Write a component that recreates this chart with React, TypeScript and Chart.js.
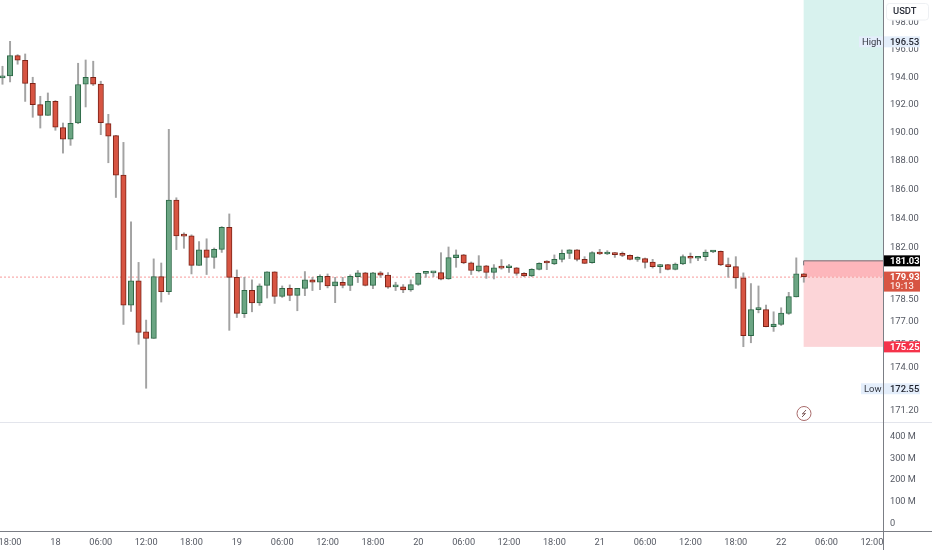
import React, { useEffect, useRef } from "react";
import { Chart, registerables } from "chart.js";

Chart.register(...registerables);

const opens = [193.85,193.99,195.48,195.14,193.46,191.92,191.15,192.16,190.27,189.45,190.60,193.39,193.90,193.41,190.56,189.70,186.91,178.02,179.64,176.24,175.81,179.93,178.92,185.17,182.70,182.70,180.69,181.74,181.23,181.78,183.29,179.88,177.44,179.01,178.16,179.34,180.25,178.60,179.14,178.67,179.14,179.71,179.55,179.95,179.30,179.55,179.34,179.93,180.18,179.34,180.18,180.04,179.24,179.24,179.03,179.41,180.15,180.18,180.20,179.77,181.22,181.40,180.87,180.32,180.65,180.22,180.53,180.53,180.52,180.15,179.98,180.42,180.87,180.78,181.10,181.50,181.74,181.10,180.87,181.53,181.46,181.53,181.42,181.37,181.10,181.15,180.92,180.60,180.74,180.42,180.78,181.28,181.17,181.28,181.60,181.64,180.74,180.60,179.84,175.98,177.71,177.71,176.59,176.73,177.46,178.56,180.11];
const highs = [194.70,196.53,195.55,195.60,193.90,192.52,192.76,192.21,190.60,192.52,194.92,195.16,195.07,193.61,191.22,189.72,189.22,183.66,180.89,177.02,181.13,180.85,190.15,185.33,182.91,182.77,182.31,182.50,181.87,183.34,184.21,180.38,179.88,179.71,179.44,180.26,180.26,179.30,179.37,179.14,180.27,179.88,180.05,180.11,179.88,179.88,180.05,180.34,180.22,180.22,180.27,180.20,179.55,179.39,179.71,180.18,180.22,180.27,181.55,181.94,181.74,181.44,180.92,181.35,180.69,180.74,181.08,180.76,180.55,180.20,180.47,180.87,181.01,181.40,181.74,181.76,181.76,181.28,181.62,181.78,181.69,181.57,181.60,181.40,181.28,181.19,181.10,180.76,180.76,180.85,181.40,181.53,181.30,181.74,181.69,181.67,181.19,181.28,180.18,179.46,179.30,178.02,177.57,177.84,178.87,181.20,180.15];
const lows = [193.39,193.56,194.85,192.15,191.01,190.24,191.15,190.08,188.46,189.01,190.55,191.75,193.30,189.77,187.78,185.35,176.73,177.59,175.42,172.55,175.81,178.22,178.73,181.76,181.85,180.11,180.69,180.07,180.49,181.57,176.34,177.19,177.19,177.57,178.00,178.49,178.13,178.53,178.31,177.64,178.65,178.99,179.05,179.17,178.18,179.17,178.99,179.53,179.30,179.12,179.88,179.14,178.99,178.85,178.94,179.34,179.88,179.93,179.71,179.75,180.56,180.80,180.07,180.25,179.81,179.77,180.43,180.22,180.02,179.93,179.93,180.38,180.40,180.74,180.92,181.15,180.99,180.81,180.83,181.42,181.42,181.23,181.28,181.06,180.96,180.51,180.51,180.18,180.38,180.38,180.74,180.85,181.01,181.01,181.55,180.67,179.88,179.14,175.26,175.52,177.50,176.57,176.27,176.66,177.40,178.56,179.55];
const closes = [193.99,195.48,195.14,193.46,191.92,191.15,192.16,190.31,189.45,190.58,193.37,193.90,193.39,190.63,189.67,186.91,178.02,179.64,176.20,175.81,179.93,178.92,185.17,182.70,182.68,180.69,181.74,181.23,181.78,183.29,179.88,177.46,179.01,178.16,179.30,180.25,178.60,179.14,178.67,179.14,179.71,179.55,179.95,179.30,179.57,179.34,179.95,180.18,179.34,180.18,180.02,179.21,179.27,179.03,179.39,180.15,180.18,180.22,179.75,181.22,181.40,180.85,180.34,180.65,180.22,180.52,180.50,180.55,180.15,179.98,180.42,180.83,180.85,181.10,181.50,181.74,181.10,180.83,181.55,181.46,181.53,181.42,181.37,181.10,181.15,180.89,180.60,180.74,180.42,180.78,181.28,181.17,181.28,181.60,181.64,180.72,180.60,179.84,175.98,177.71,177.73,176.59,176.76,177.49,178.58,180.11,179.93];

const timeTickIndex = [1,7,13,19,25,31,37,43,49,55,61,67,73,79,85,91,97,103,109,115];
const timeTickLabels = ["18:00","18","06:00","12:00","18:00","19","06:00","12:00","18:00","20","06:00","12:00","18:00","21","06:00","12:00","18:00","22","06:00","12:00"];
const priceTicks = [198,196,194,192,190,188,186,184,182,178.5,177,175.5,174,171.2];
const volumeTicks = [0,100e6,200e6,300e6,400e6];

const lastPrice = 179.93;
const countdown = "19:13";
const entryPrice = 181.03;
const stopPrice = 175.25;
const sessionHigh = 196.53;
const sessionLow = 172.55;
const currencyLabel = "USDT";
const boxStartIndex = 106;

const UP = "#6ba583", UP_EDGE = "#2c6846", DOWN = "#d75442", DOWN_EDGE = "#7c2317", WICK = "#a3a3a3";
const FONT = "Roboto, sans-serif";

function tag(ctx: CanvasRenderingContext2D, x: number, y: number, w: number, h: number, bg: string) {
  ctx.fillStyle = bg;
  ctx.fillRect(x, y, w, h);
}
function txt(ctx: CanvasRenderingContext2D, s: string, x: number, y: number, color: string, size = 9.4, weight = "500") {
  ctx.font = `${weight} ${size}px ${FONT}`;
  ctx.fillStyle = color;
  ctx.textAlign = "left";
  ctx.textBaseline = "middle";
  ctx.fillText(s, x, y);
}

const overlay = {
  id: "overlay",
  beforeDatasetsDraw(chart: any) {
    const { ctx, scales, chartArea } = chart;
    const y = scales.y, x = scales.x;
    const left = x.getPixelForValue(boxStartIndex) - 0.2, right = chartArea.right;
    const top = y.getPixelForValue(entryPrice), cur = y.getPixelForValue(lastPrice), bot = y.getPixelForValue(stopPrice);
    ctx.save();
    ctx.fillStyle = "#d8f2ee";
    ctx.fillRect(left, y.top, right - left, top - y.top);
    ctx.fillStyle = "#fcd5d8";
    ctx.fillRect(left, top, right - left, bot - top);
    ctx.fillStyle = "#fdb6bb";
    ctx.fillRect(left, top, right - left, cur - top);
    ctx.strokeStyle = "#f79a9a";
    ctx.setLineDash([2, 2]);
    ctx.beginPath();
    ctx.moveTo(0, cur + 0.5);
    ctx.lineTo(right, cur + 0.5);
    ctx.stroke();
    ctx.setLineDash([]);
    ctx.strokeStyle = "#6f7278";
    ctx.lineWidth = 1;
    ctx.beginPath();
    ctx.moveTo(left, top + 5);
    ctx.lineTo(left, top + 0.5);
    ctx.lineTo(right, top + 0.5);
    ctx.stroke();
    ctx.restore();
  },
  afterDraw(chart: any) {
    const { ctx, scales, chartArea, width, height } = chart;
    const y = scales.y;
    const r = chartArea.right;
    ctx.save();
    ctx.strokeStyle = "#e3e5ec";
    ctx.lineWidth = 1;
    ctx.beginPath();
    ctx.moveTo(0, y.bottom + 0.5);
    ctx.lineTo(width, y.bottom + 0.5);
    ctx.stroke();
    ctx.strokeStyle = "#7b7e85";
    ctx.beginPath();
    ctx.moveTo(0, chartArea.bottom + 0.5);
    ctx.lineTo(width, chartArea.bottom + 0.5);
    ctx.moveTo(r + 0.5, 0);
    ctx.lineTo(r + 0.5, height);
    ctx.stroke();

    ctx.fillStyle = "#ffffff";
    ctx.strokeStyle = "#eef0f3";
    ctx.beginPath();
    ctx.roundRect(886.5, 3.5, 42, 16.5, 3);
    ctx.fill();
    ctx.stroke();
    txt(ctx, currencyLabel, 893, 12, "#2a2e39", 9.4, "500");

    const tagH = (v: number, name: string, nameX: number) => {
      const py = y.getPixelForValue(v);
      tag(ctx, nameX - 3, py - 5, r - nameX + 3, 11, "#e4eefb");
      tag(ctx, r + 1, py - 5, 36, 11, "#e4eefb");
      txt(ctx, name, nameX, py + 1, "#333741", 9.4, "400");
      txt(ctx, v.toFixed(2), r + 7, py + 1, "#222530", 9.4, "500");
    };
    tagH(sessionHigh, "High", 862);
    tagH(sessionLow, "Low", 864);

    const pe = y.getPixelForValue(entryPrice);
    tag(ctx, r + 1, pe - 5, 36, 11, "#000000");
    txt(ctx, entryPrice.toFixed(2), r + 7, pe + 1, "#ffffff", 9.4, "700");
    const pl = y.getPixelForValue(lastPrice);
    tag(ctx, r + 1, pl - 5, 36, 20, "#d75442");
    txt(ctx, lastPrice.toFixed(2), r + 7, pl + 1, "#ffffff", 9.4, "700");
    txt(ctx, countdown, r + 7, pl + 10.5, "#fbe3df", 9.4, "500");
    const ps = y.getPixelForValue(stopPrice);
    tag(ctx, r + 1, ps - 5.5, 36, 11, "#f5334a");
    txt(ctx, stopPrice.toFixed(2), r + 7, ps + 0.5, "#ffffff", 9.4, "700");

    ctx.strokeStyle = "#a86a6a";
    ctx.lineWidth = 1;
    ctx.beginPath();
    ctx.arc(804, 413.5, 7, 0, Math.PI * 2);
    ctx.stroke();
    ctx.strokeStyle = "#7c5a5a";
    ctx.beginPath();
    ctx.moveTo(806, 410);
    ctx.lineTo(802.3, 414);
    ctx.lineTo(805.5, 413.5);
    ctx.lineTo(802, 417);
    ctx.stroke();
    ctx.restore();
  },
};

const noPadding = (s: any) => {
  s.paddingLeft = 0;
  s.paddingRight = 0;
  s.paddingTop = 0;
  s.paddingBottom = 0;
};

export default function App() {
  const ref = useRef<HTMLCanvasElement>(null);
  useEffect(() => {
    document.body.style.margin = "0";
    const idx = opens.map((_, i) => i);
    const isUp = idx.map((i) => closes[i] >= opens[i]);
    const chart = new Chart(ref.current!, {
      type: "bar",
      data: {
        datasets: [
          {
            label: "wick",
            yAxisID: "y",
            data: idx.map((i) => ({ x: i, y: [lows[i], highs[i]] })) as any,
            backgroundColor: WICK,
            barThickness: 1.3,
            grouped: false,
            order: 2,
          },
          {
            label: "body",
            yAxisID: "y",
            data: idx.map((i) => ({ x: i, y: [opens[i], closes[i]] })) as any,
            backgroundColor: isUp.map((u) => (u ? UP : DOWN)),
            borderColor: isUp.map((u) => (u ? UP_EDGE : DOWN_EDGE)),
            borderWidth: 1,
            borderSkipped: false,
            barThickness: 5.4,
            minBarLength: 2,
            grouped: false,
            order: 1,
          },
        ],
      } as any,
      options: {
        animation: false,
        responsive: false,
        devicePixelRatio: 1,
        layout: { padding: 0 },
        plugins: { legend: { display: false }, tooltip: { enabled: false } },
        scales: {
          x: {
            type: "linear",
            offset: false,
            min: -0.33,
            max: 116.47,
            grid: { display: false, drawTicks: false, offset: false },
            border: { display: false },
            afterBuildTicks: (s: any) => {
              s.ticks = timeTickIndex.map((value) => ({ value }));
            },
            afterFit: (s: any) => {
              s.height = 19;
              noPadding(s);
            },
            ticks: {
              autoSkip: false,
              maxRotation: 0,
              padding: 6,
              color: "#555963",
              font: { family: FONT, size: 9.2 },
              callback: (v: any) => timeTickLabels[timeTickIndex.indexOf(Number(v))] ?? "",
            },
          },
          y: {
            type: "logarithmic",
            position: "right",
            stack: "panes",
            stackWeight: 422,
            min: 170.38,
            max: 199.6,
            grid: { display: false, drawTicks: false },
            border: { display: false },
            afterBuildTicks: (s: any) => {
              s.ticks = priceTicks.map((value) => ({ value }));
            },
            afterFit: (s: any) => {
              s.width = 49;
              noPadding(s);
            },
            ticks: {
              autoSkip: false,
              padding: 7,
              labelOffset: 1.5,
              crossAlign: "near",
              color: "#555963",
              font: { family: FONT, size: 9.4 },
              callback: (v: any) => Number(v).toFixed(2),
            },
          },
          vol: {
            type: "linear",
            position: "right",
            stack: "panes",
            stackWeight: 109,
            min: -41.4e6,
            max: 459.8e6,
            grid: { display: false, drawTicks: false },
            border: { display: false },
            afterBuildTicks: (s: any) => {
              s.ticks = volumeTicks.map((value) => ({ value }));
            },
            afterFit: (s: any) => {
              s.width = 49;
              noPadding(s);
            },
            ticks: {
              autoSkip: false,
              padding: 7,
              labelOffset: 1.5,
              crossAlign: "near",
              color: "#555963",
              font: { family: FONT, size: 9.2 },
              callback: (v: any) => (Number(v) === 0 ? "0" : `${Number(v) / 1e6} M`),
            },
          },
        },
      } as any,
      plugins: [overlay],
    });
    return () => chart.destroy();
  }, []);
  return <canvas ref={ref} width={932} height={550} style={{ display: "block" }} />;
}
